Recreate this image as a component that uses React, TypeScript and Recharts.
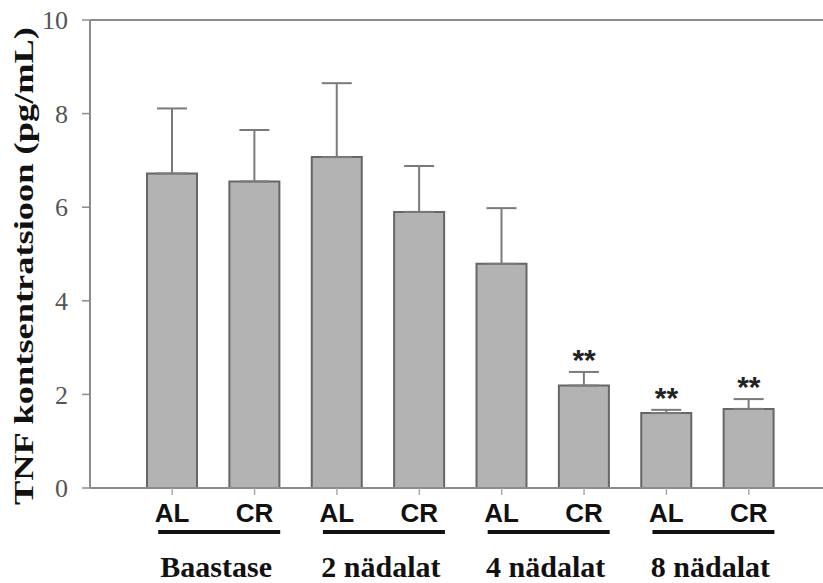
import React from "react";
import { ComposedChart, Bar, Line, XAxis, YAxis, ErrorBar, ReferenceLine, LabelList, Label } from "recharts";

const groups = ["Baastase", "2 nädalat", "4 nädalat", "8 nädalat"];
const conditions = ["AL", "CR", "AL", "CR", "AL", "CR", "AL", "CR"];
const means = [6.72, 6.55, 7.07, 5.9, 4.79, 2.19, 1.6, 1.69];
const errors = [1.39, 1.1, 1.58, 0.98, 1.19, 0.29, 0.07, 0.21];
const marks = ["", "", "", "", "", "**", "**", "**"];
const yTicks = [0, 2, 4, 6, 8, 10];

const data = conditions.map((c, i) => ({
  key: `${groups[Math.floor(i / 2)]}-${c}`,
  cond: c,
  mean: means[i],
  err: [0, errors[i]],
  upper: means[i] + errors[i],
  stars: marks[i],
}));

const SERIF = "'Liberation Serif', 'Times New Roman', serif";
const SANS = "'Liberation Sans', Arial, sans-serif";

function GroupTick(props: any) {
  const { x, y, index } = props;
  const isFirst = index % 2 === 0;
  return (
    <g>
      <text x={x} y={y + 27} textAnchor="middle" fontFamily={SANS} fontWeight="bold" fontSize={26} fill="#111">
        {conditions[index]}
      </text>
      {isFirst && (
        <>
          <line x1={x - 14} x2={x + 108} y1={y + 37} y2={y + 37} stroke="#111" strokeWidth={4} />
          <text x={x + 44} y={y + 82} textAnchor="middle" fontFamily={SERIF} fontWeight="bold" fontSize={30} fill="#111">
            {groups[index / 2]}
          </text>
        </>
      )}
    </g>
  );
}

function YLabel(props: any) {
  const { viewBox } = props;
  const cy = viewBox.y + viewBox.height / 2 + 12;
  return (
    <text
      transform={`translate(33, ${cy}) rotate(-90) scale(1.3, 1)`}
      textAnchor="middle"
      fontFamily={SERIF}
      fontWeight="bold"
      fontSize={28}
      fill="#111"
    >
      TNF kontsentratsioon (pg/mL)
    </text>
  );
}

function Stars(props: any) {
  const { x, y, value } = props;
  if (!value) return null;
  return (
    <text x={x} y={y - 2} textAnchor="middle" fontFamily={SANS} fontWeight="bold" fontSize={30} fill="#222">
      {value}
    </text>
  );
}

export default function App() {
  return (
    <div style={{ position: "absolute", left: 0, top: 0, width: 823, height: 583, background: "#fff" }}>
      <ComposedChart width={823} height={583} data={data} margin={{ top: 20, right: 0, bottom: 0, left: 0 }}>
        <ReferenceLine y={10} stroke="#8c8c8c" strokeWidth={2} />
        <XAxis
          dataKey="key"
          height={95}
          padding={{ left: 41, right: 33 }}
          axisLine={{ stroke: "#8c8c8c", strokeWidth: 2 }}
          tickLine={{ stroke: "#aaa", strokeWidth: 1.5 }}
          tickSize={7}
          tickMargin={0}
          interval={0}
          tick={<GroupTick />}
        />
        <YAxis
          domain={[0, 10]}
          ticks={yTicks}
          width={90}
          axisLine={{ stroke: "#8c8c8c", strokeWidth: 2 }}
          tickLine={{ stroke: "#8c8c8c", strokeWidth: 1.5 }}
          tickSize={8}
          tickMargin={14}
          tick={{ fontFamily: SERIF, fontSize: 26, fill: "#555" }}
        >
          <Label content={<YLabel />} />
        </YAxis>
        <Bar dataKey="mean" fill="#b3b3b3" stroke="#666" strokeWidth={2} barSize={50} isAnimationActive={false}>
          <ErrorBar dataKey="err" width={15} stroke="#7a7a7a" strokeWidth={2} direction="y" />
        </Bar>
        <Line dataKey="upper" stroke="none" dot={false} activeDot={false} isAnimationActive={false}>
          <LabelList dataKey="stars" content={<Stars />} />
        </Line>
      </ComposedChart>
    </div>
  );
}
